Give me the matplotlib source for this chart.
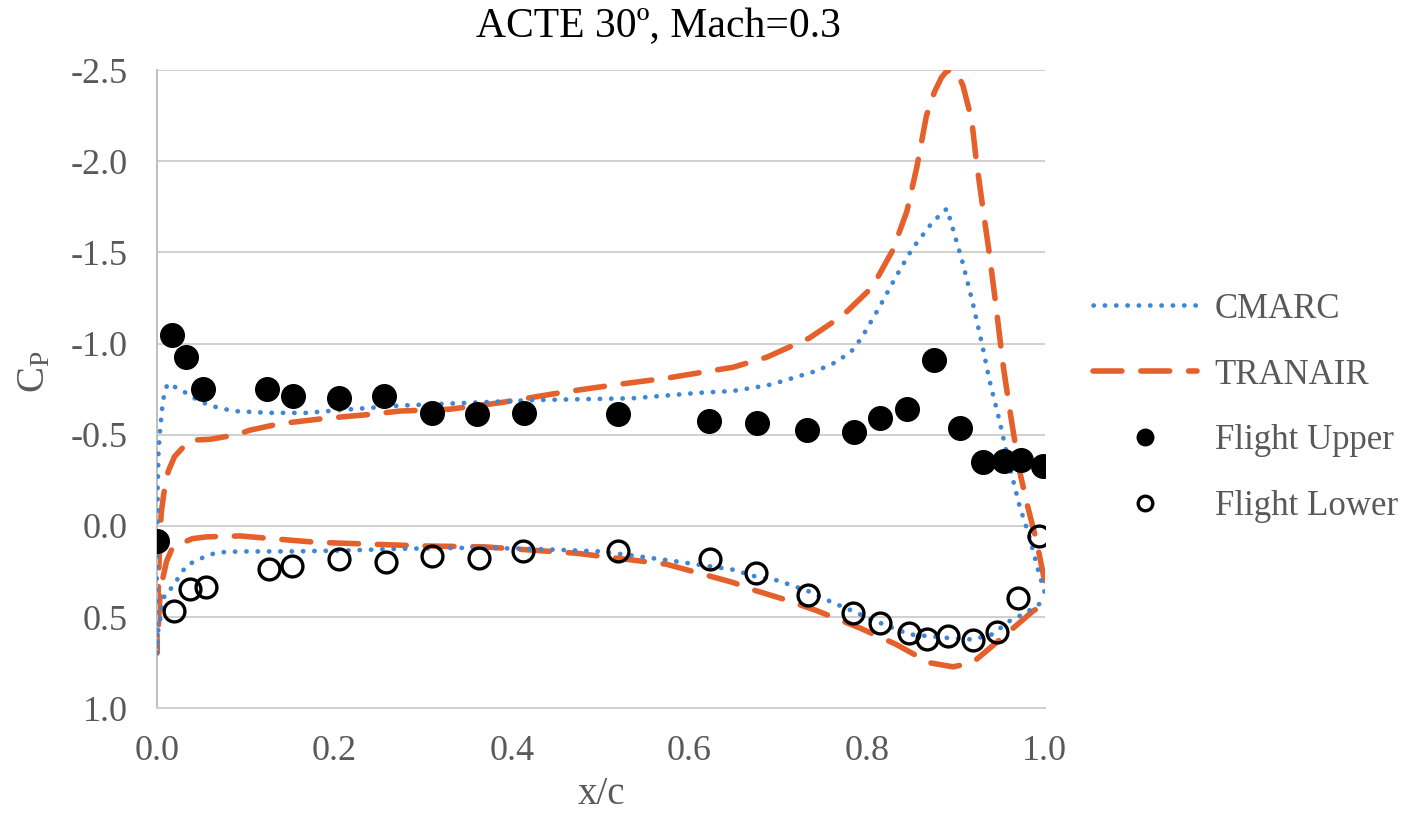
import matplotlib
matplotlib.use('Agg')
import matplotlib.pyplot as plt
import numpy as np

plt.rcParams['font.family'] = ['Liberation Serif', 'DejaVu Serif']
plt.rcParams['mathtext.fontset'] = 'stix'
plt.rcParams['axes.unicode_minus'] = False

# CMARC, upper surface LE -> TE
cmarc_up_x = [0.0, 0.0, 0.001, 0.001, 0.002, 0.004, 0.007, 0.012, 0.026, 0.046, 0.06, 0.086,
              0.127, 0.169, 0.206, 0.274, 0.35, 0.423, 0.536, 0.611, 0.649, 0.687, 0.702,
              0.743, 0.766, 0.784, 0.795, 0.814, 0.833, 0.851, 0.874, 0.890, 0.896, 0.908,
              0.919, 0.930, 0.938, 0.949, 0.961, 0.972, 0.983, 0.994, 1.0]
cmarc_up_cp = [0.71, 0.30, -0.03, -0.21, -0.41, -0.54, -0.69, -0.78, -0.75, -0.69, -0.66, -0.63,
               -0.62, -0.62, -0.635, -0.66, -0.675, -0.69, -0.70, -0.73, -0.74, -0.77, -0.79,
               -0.85, -0.90, -0.965, -1.04, -1.20, -1.37, -1.52, -1.667, -1.74, -1.643, -1.44,
               -1.226, -0.988, -0.798, -0.583, -0.32, -0.107, 0.06, 0.265, 0.36]
# CMARC, lower surface LE -> TE
cmarc_lo_x = [0.0, 0.001, 0.009, 0.018, 0.026, 0.034, 0.045, 0.058, 0.07, 0.094, 0.15, 0.21,
              0.28, 0.35, 0.42, 0.50, 0.574, 0.649, 0.676, 0.70, 0.735, 0.761, 0.788, 0.803,
              0.848, 0.89, 0.919, 0.941, 0.963, 0.976, 1.0]
cmarc_lo_cp = [0.71, 0.59, 0.37, 0.336, 0.27, 0.215, 0.19, 0.16, 0.145, 0.14, 0.14, 0.135,
               0.125, 0.12, 0.125, 0.14, 0.187, 0.24, 0.28, 0.30, 0.36, 0.42, 0.475, 0.51,
               0.595, 0.614, 0.623, 0.595, 0.513, 0.485, 0.41]

# TRANAIR, upper surface LE -> TE
tranair_up_x = [0.0, 0.001, 0.003, 0.005, 0.008, 0.013, 0.02, 0.037, 0.06, 0.09, 0.105, 0.138,
                0.19, 0.237, 0.274, 0.33, 0.386, 0.46, 0.518, 0.574, 0.611, 0.649, 0.687,
                0.735, 0.773, 0.806, 0.829, 0.845, 0.856, 0.867, 0.876, 0.884, 0.890, 0.896,
                0.902, 0.908, 0.918, 0.923, 0.931, 0.938, 0.946, 0.953, 0.961, 0.972, 0.981,
                0.991, 1.0]
tranair_up_cp = [0.70, 0.45, 0.15, -0.07, -0.18, -0.30, -0.38, -0.47, -0.475, -0.50, -0.525, -0.56,
                 -0.59, -0.61, -0.63, -0.64, -0.675, -0.735, -0.775, -0.81, -0.84, -0.87, -0.925,
                 -1.03, -1.155, -1.31, -1.512, -1.726, -1.964, -2.25, -2.38, -2.46, -2.495, -2.50,
                 -2.48, -2.417, -2.226, -2.01, -1.726, -1.488, -1.18, -0.893, -0.631, -0.298,
                 -0.107, 0.083, 0.30]
# TRANAIR, lower surface LE -> TE
tranair_lo_x = [0.0, 0.004, 0.011, 0.018, 0.04, 0.056, 0.094, 0.13, 0.18, 0.24, 0.30, 0.37,
                0.473, 0.574, 0.649, 0.668, 0.705, 0.743, 0.792, 0.833, 0.87, 0.897, 0.919,
                0.953, 0.987, 1.0]
tranair_lo_cp = [0.70, 0.35, 0.195, 0.116, 0.07, 0.06, 0.055, 0.07, 0.09, 0.10, 0.11, 0.115,
                 0.15, 0.21, 0.31, 0.345, 0.40, 0.464, 0.56, 0.65, 0.75, 0.773, 0.75,
                 0.61, 0.467, 0.43]

# flight data
upper_x = [0.0, 0.017, 0.033, 0.052, 0.124, 0.153, 0.205, 0.256, 0.310, 0.361, 0.414, 0.519,
           0.622, 0.676, 0.732, 0.785, 0.815, 0.845, 0.876, 0.905, 0.931, 0.954, 0.974, 0.998]
upper_cp = [0.085, -1.046, -0.925, -0.75, -0.75, -0.712, -0.70, -0.71, -0.618, -0.613, -0.618,
            -0.613, -0.575, -0.564, -0.525, -0.514, -0.59, -0.64, -0.91, -0.536, -0.35, -0.355,
            -0.36, -0.33]
lower_x = [0.019, 0.037, 0.055, 0.126, 0.152, 0.205, 0.258, 0.310, 0.363, 0.413, 0.519, 0.623,
           0.675, 0.734, 0.784, 0.815, 0.847, 0.868, 0.891, 0.919, 0.946, 0.970, 0.994]
lower_cp = [0.468, 0.347, 0.336, 0.237, 0.221, 0.182, 0.199, 0.166, 0.177, 0.139, 0.139, 0.182,
            0.259, 0.38, 0.48, 0.531, 0.59, 0.62, 0.604, 0.628, 0.58, 0.397, 0.055]

x_ticks = [0.0, 0.2, 0.4, 0.6, 0.8, 1.0]
y_ticks = [-2.5, -2.0, -1.5, -1.0, -0.5, 0.0, 0.5, 1.0]

grey = '#595959'
blue = '#3F87D4'
orange = '#E5602A'

fig = plt.figure(figsize=(14.25, 8.15), dpi=100)
ax = fig.add_axes([0.110, 0.131, 0.623, 0.783])

# one path per code: TE upper -> LE -> TE lower
cm_x = cmarc_up_x[::-1] + cmarc_lo_x[1:]
cm_cp = cmarc_up_cp[::-1] + cmarc_lo_cp[1:]
tr_x = tranair_up_x[::-1] + tranair_lo_x[1:]
tr_cp = tranair_up_cp[::-1] + tranair_lo_cp[1:]

ax.plot(cm_x, cm_cp, color=blue, lw=3.4, linestyle=(0, (0.05, 2.35)),
        dash_capstyle='round', label='CMARC', zorder=3)
ax.plot(tr_x, tr_cp, color=orange, lw=4.0, linestyle=(0, (5.2, 3.4)),
        dash_capstyle='round', label='TRANAIR', zorder=2)
ax.plot(upper_x, upper_cp, 'o', color='black', ms=17, label='Flight Upper', zorder=4)
ax.plot(lower_x, lower_cp, 'o', mfc='none', mec='black', mew=2.4, ms=15,
        label='Flight Lower', zorder=4)

ax.set_xlim(0, 1.0)
ax.set_ylim(1.0, -2.5)
ax.set_xticks(x_ticks)
ax.set_yticks(y_ticks)
ax.set_xticklabels([f'{v:.1f}' for v in x_ticks])
ax.set_yticklabels([f'{v:.1f}' for v in y_ticks])
ax.tick_params(length=0, labelsize=26, colors=grey)
ax.tick_params(axis='x', pad=19)
ax.tick_params(axis='y', pad=21)

ax.grid(axis='y', color='#D0D0D0', lw=1.4)
ax.set_axisbelow(True)
for s in ['top', 'right']:
    ax.spines[s].set_visible(False)
ax.spines['left'].set_color('#BFBFBF')
ax.spines['left'].set_linewidth(1.4)
ax.spines['bottom'].set_color('#D0D0D0')
ax.spines['bottom'].set_linewidth(1.4)

fig.text(658 / 1425, 1 - 27 / 815, 'ACTE 30º, Mach=0.3', ha='center', va='center',
         fontsize=30, color='black')
fig.text(601 / 1425, 1 - 795 / 815, 'x/c', ha='center', va='center', fontsize=28, color=grey)
fig.text(35 / 1425, 1 - 372 / 815, r'C$_\mathregular{P}$', ha='center', va='center',
         fontsize=28, color=grey, rotation=90)

leg = ax.legend(loc='center left', bbox_to_anchor=(1062 / 1425, 1 - 408 / 815),
                bbox_transform=fig.transFigure, frameon=False, fontsize=25,
                handlelength=3.0, labelspacing=0.95, markerscale=0.7, handletextpad=0.5)
for t in leg.get_texts():
    t.set_color(grey)

fig.savefig('out.png', dpi=100)
